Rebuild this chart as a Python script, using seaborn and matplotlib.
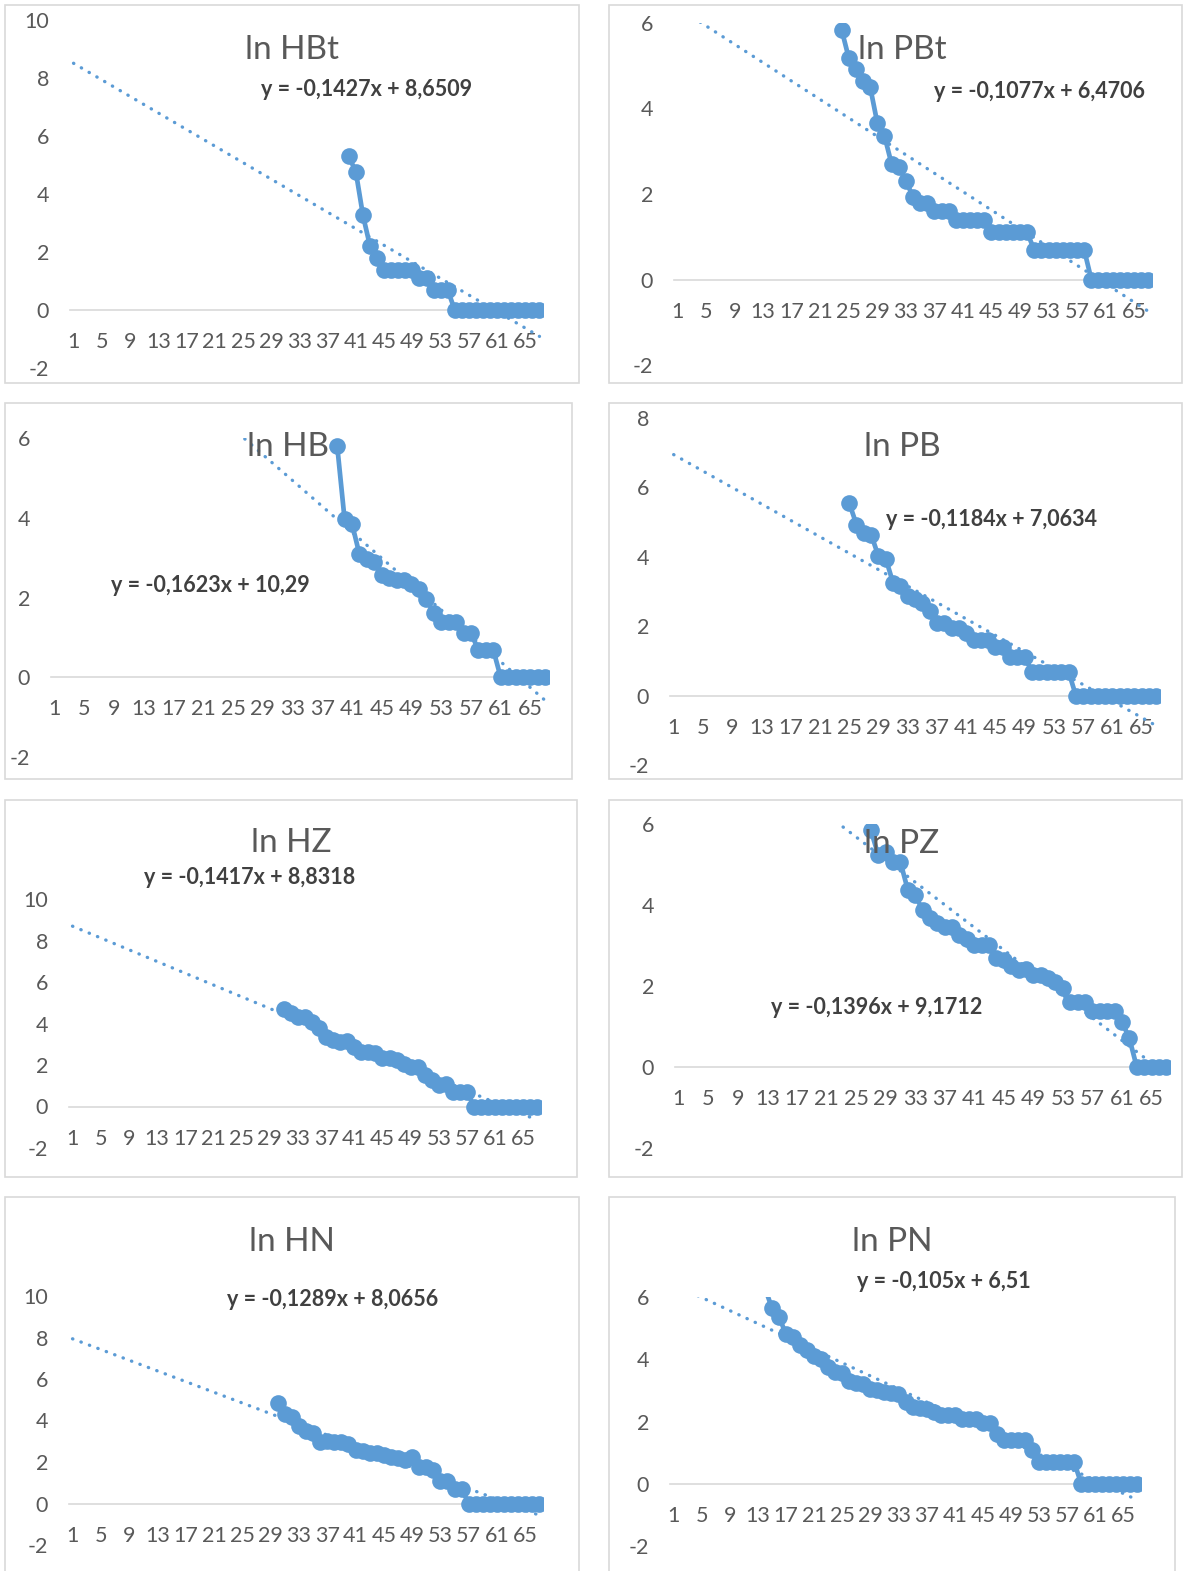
import numpy as np
import seaborn as sns
import matplotlib.pyplot as plt
from matplotlib.patches import Rectangle

## Data (ln values, categories 1..67)
n_cat = 67
x_ticks = [1, 5, 9, 13, 17, 21, 25, 29, 33, 37, 41, 45, 49, 53, 57, 61, 65]

hbt_start = 40
hbt = [5.30, 4.75, 3.26, 2.20, 1.79, 1.39, 1.39, 1.39, 1.39, 1.39, 1.10, 1.10,
       0.69, 0.69, 0.69, 0, 0, 0, 0, 0, 0, 0, 0, 0, 0, 0, 0, 0]

pbt_start = 24
pbt = [5.84, 5.18, 4.92, 4.65, 4.50, 3.66, 3.36, 2.70, 2.64, 2.30, 1.94, 1.79,
       1.79, 1.61, 1.61, 1.61, 1.39, 1.39, 1.39, 1.39, 1.39, 1.10, 1.10, 1.10,
       1.10, 1.10, 1.10, 0.69, 0.69, 0.69, 0.69, 0.69, 0.69, 0.69, 0.69,
       0, 0, 0, 0, 0, 0, 0, 0, 0]

hb_start = 39
hb = [5.81, 3.96, 3.85, 3.08, 2.97, 2.89, 2.56, 2.49, 2.43, 2.43, 2.35, 2.22,
      1.96, 1.61, 1.39, 1.39, 1.39, 1.10, 1.10, 0.69, 0.69, 0.69,
      0, 0, 0, 0, 0, 0, 0]

pb_start = 25
pb = [5.55, 4.93, 4.69, 4.64, 4.02, 3.95, 3.25, 3.16, 2.87, 2.78, 2.68, 2.44,
      2.08, 2.08, 1.96, 1.96, 1.79, 1.61, 1.61, 1.61, 1.39, 1.39, 1.10, 1.10,
      1.10, 0.69, 0.69, 0.69, 0.69, 0.69, 0.69,
      0, 0, 0, 0, 0, 0, 0, 0, 0, 0, 0, 0]

hz_start = 31
hz = [4.69, 4.49, 4.29, 4.33, 4.09, 3.77, 3.37, 3.21, 3.13, 3.16, 2.89, 2.65,
      2.65, 2.57, 2.36, 2.36, 2.25, 2.04, 1.88, 1.88, 1.52, 1.28, 1.04, 1.08,
      0.69, 0.69, 0.69, 0, 0, 0, 0, 0, 0, 0, 0, 0, 0]

pz_start = 27
pz = [5.85, 5.24, 5.30, 5.07, 5.07, 4.38, 4.25, 3.88, 3.68, 3.56, 3.45, 3.45,
      3.27, 3.17, 3.02, 3.02, 3.02, 2.69, 2.65, 2.49, 2.39, 2.41, 2.28, 2.28,
      2.20, 2.10, 1.95, 1.61, 1.61, 1.61, 1.39, 1.39, 1.39, 1.39, 1.11, 0.71,
      0, 0, 0, 0, 0]

hn_start = 30
hn = [4.86, 4.31, 4.18, 3.73, 3.50, 3.41, 2.97, 3.02, 2.94, 2.97, 2.86, 2.57,
      2.54, 2.41, 2.44, 2.36, 2.25, 2.17, 2.12, 2.22, 1.77, 1.77, 1.61, 1.08,
      1.08, 0.69, 0.69, 0, 0, 0, 0, 0, 0, 0, 0, 0, 0, 0]

pn_start = 14
pn = [6.30, 5.64, 5.37, 4.80, 4.72, 4.45, 4.30, 4.10, 4.00, 3.75, 3.60, 3.55,
      3.30, 3.25, 3.20, 3.05, 3.00, 2.95, 2.90, 2.89, 2.64, 2.48, 2.43, 2.40,
      2.30, 2.20, 2.20, 2.20, 2.08, 2.08, 2.08, 1.95, 1.95, 1.61, 1.39, 1.39,
      1.39, 1.39, 1.10, 0.69, 0.69, 0.69, 0.69, 0.69, 0.69,
      0, 0, 0, 0, 0, 0, 0, 0, 0]

# trend line (slope, intercept) and the label text
trends = {
    'ln HBt': (-0.1427, 8.6509, 'y = -0,1427x + 8,6509'),
    'ln PBt': (-0.1077, 6.4706, 'y = -0,1077x + 6,4706'),
    'ln HB': (-0.1623, 10.29, 'y = -0,1623x + 10,29'),
    'ln PB': (-0.1184, 7.0634, 'y = -0,1184x + 7,0634'),
    'ln HZ': (-0.1417, 8.8318, 'y = -0,1417x + 8,8318'),
    'ln PZ': (-0.1396, 9.1712, 'y = -0,1396x + 9,1712'),
    'ln HN': (-0.1289, 8.0656, 'y = -0,1289x + 8,0656'),
    'ln PN': (-0.105, 6.51, 'y = -0,105x + 6,51'),
}

## Layout (pixels): box, axis x0/x1, y of top/bottom tick, ymax, title, equation
W, H = 1184, 1571
panels = [
    ('ln HBt', hbt_start, hbt, (5, 5, 579, 383), (70, 543, 20, 368), 10, (292, 50), (367, 90)),
    ('ln PBt', pbt_start, pbt, (609, 5, 1182, 383), (674, 1152, 23, 365), 6, (902, 50), (1040, 92)),
    ('ln HB', hb_start, hb, (5, 403, 572, 779), (51, 549, 438, 757), 6, (288, 447), (210, 586)),
    ('ln PB', pb_start, pb, (609, 403, 1182, 779), (670, 1160, 418, 765), 8, (902, 447), (992, 519)),
    ('ln HZ', hz_start, hz, (5, 800, 577, 1177), (69, 541, 899, 1148), 10, (291, 843), (250, 877)),
    ('ln PZ', pz_start, pz, (609, 800, 1182, 1177), (675, 1170, 824, 1148), 6, (902, 844), (877, 1008)),
    ('ln HN', hn_start, hn, (5, 1197, 579, 1575), (69, 543, 1296, 1545), 10, (292, 1242), (333, 1300)),
    ('ln PN', pn_start, pn, (609, 1197, 1175, 1575), (670, 1141, 1297, 1546), 6, (892, 1242), (944, 1282)),
]

blue = '#5B9BD5'
grey_txt = '#595959'

sns.set_style("white")
plt.rcParams['font.family'] = ['Lato', 'DejaVu Sans']
plt.rcParams['axes.unicode_minus'] = False

fig = plt.figure(figsize=(W / 100, H / 100), dpi=100)

for name, start, vals, box, axpos, ymax, tpos, epos in panels:
    # chart border
    bx0, by0, bx1, by1 = box
    fig.add_artist(Rectangle((bx0 / W, 1 - by1 / H), (bx1 - bx0) / W, (by1 - by0) / H,
                             transform=fig.transFigure, fill=False,
                             edgecolor='#d9d9d9', linewidth=1.2))

    x0, x1, yt, yb = axpos
    ax = fig.add_axes([x0 / W, 1 - yb / H, (x1 - x0) / W, (yb - yt) / H])
    ax.patch.set_alpha(0)

    xs = np.arange(start, start + len(vals))
    sns.lineplot(x=xs, y=vals, ax=ax, color=blue, linewidth=3.4, marker='o',
                 markersize=12, markeredgewidth=0, zorder=2)

    slope, icpt, eq = trends[name]
    x_all = np.arange(1, n_cat + 1)
    ax.plot(x_all, slope * x_all + icpt, color=blue, linewidth=2.4,
            linestyle=(0, (0.1, 2.6)), dash_capstyle='round', zorder=3)

    ax.set_xlim(0.5, n_cat + 0.5)
    ax.set_ylim(-2, ymax)
    ax.set_xticks(x_ticks)
    ax.set_yticks(np.arange(-2, ymax + 1, 2))
    ax.set_xlabel('')
    ax.set_ylabel('')
    for s in ['top', 'right', 'left']:
        ax.spines[s].set_visible(False)
    ax.spines['bottom'].set_position(('data', 0))
    ax.spines['bottom'].set_color('#d9d9d9')
    ax.spines['bottom'].set_linewidth(1.2)
    ax.spines['bottom'].set_zorder(1)
    ax.tick_params(axis='x', length=0, pad=16, labelsize=15.5, labelcolor=grey_txt)
    ax.tick_params(axis='y', length=0, pad=15, labelsize=15.5, labelcolor=grey_txt)

    fig.text(tpos[0] / W, 1 - tpos[1] / H, name, ha='center', va='center',
             fontsize=24, color=grey_txt)
    fig.text(epos[0] / W, 1 - epos[1] / H, eq, ha='center', va='center',
             fontsize=15.5, fontweight='bold', color='#404040')

fig.savefig('out.png', dpi=100)
